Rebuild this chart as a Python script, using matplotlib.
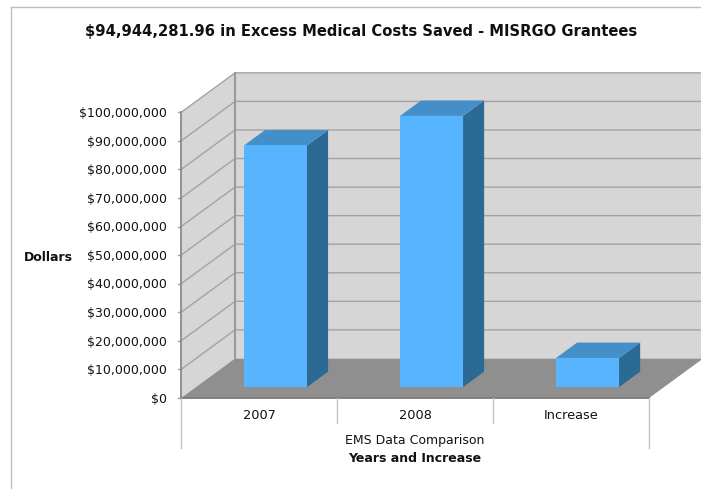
import matplotlib
matplotlib.use("Agg")
import matplotlib.pyplot as plt
from matplotlib.patches import Polygon

categories = ["2007", "2008", "Increase"]
values = [84.6e6, 94.94e6, 10.2e6]
y_ticks = list(range(0, 100000001, 10000000))
title = "$94,944,281.96 in Excess Medical Costs Saved - MISRGO Grantees"

W, H = 701, 489
fig = plt.figure(figsize=((W + 0.2) / 100, (H + 0.2) / 100), dpi=100)
L, R, T, B = 181, 649, 112.5, 398
ax = fig.add_axes([L / W, 1 - B / H, (R - L) / W, (B - T) / H])
ax.set_xlim(0, 3)
ax.set_ylim(0, 100e6)
ax.axis("off")

# oblique projection: depth 0..1 shifts a point right and up
DX = 54 / ((R - L) / 3)
DY = 39.5 / ((B - T) / 100e6)
def P(x, y, d):
    return (x + d * DX, y + d * DY)

def poly(pts, fc, ec="none", lw=0, z=1):
    ax.add_patch(Polygon(pts, closed=True, fc=fc, ec=ec, lw=lw, zorder=z, clip_on=False))

GRID = "#a3a3a3"
# back wall, side wall, floor
poly([P(0, 0, 1), P(3, 0, 1), P(3, 100e6, 1), P(0, 100e6, 1)], "#d6d6d6", z=1)
poly([P(0, 0, 0), P(0, 0, 1), P(0, 100e6, 1), P(0, 100e6, 0)], "#d6d6d6", z=1)
poly([P(0, 0, 0), P(3, 0, 0), P(3, 0, 1), P(0, 0, 1)], "#8f8f8f", z=2)

for t in y_ticks:
    if t > 0:
        a, b, c = P(0, t, 0), P(0, t, 1), P(3, t, 1)
        ax.plot([a[0], b[0], c[0]], [a[1], b[1], c[1]], color=GRID, lw=1.0, zorder=1.5, clip_on=False)
    ax.plot([-0.02, 0], [t, t], color=GRID, lw=1.0, clip_on=False, zorder=3)
    ax.annotate(f"${t:,}", (0, t), xytext=(-14, -1), textcoords="offset pixels",
                ha="right", va="center", fontsize=9.0, color="#111111", annotation_clip=False)

b1, b2 = P(0, 0, 1), P(0, 100e6, 1)
ax.plot([b1[0], b2[0]], [b1[1], b2[1]], color="#9a9a9a", lw=1.5, zorder=1.6, clip_on=False)
ax.plot([0, 0], [0, 100e6], color="#8a8a8a", lw=1.3, zorder=3, clip_on=False)
ax.plot([0, 3], [0, 0], color="#7a7a7a", lw=1.3, zorder=3, clip_on=False)

# bars
D0, D1 = 0.275, 0.665
W2 = 0.202
for i, v in enumerate(values):
    cx = i + 0.5 + 0.01
    x0, x1 = cx - W2, cx + W2
    poly([P(x1, 0, D0), P(x1, 0, D1), P(x1, v, D1), P(x1, v, D0)], "#2a6a94", z=4)
    poly([P(x0, v, D0), P(x1, v, D0), P(x1, v, D1), P(x0, v, D1)], "#458fc8", z=4)
    poly([P(x0, 0, D0), P(x1, 0, D0), P(x1, v, D0), P(x0, v, D0)], "#57b5ff", z=5)

# category separators and labels, measured in pixels below the axis
trans = ax.get_xaxis_transform()
px = 1 / (B - T)
for x in range(4):
    lo = -50 * px if x in (0, 3) else -25 * px
    ax.plot([x, x], [0, lo], transform=trans, color="#c4c4c4", lw=1.0, clip_on=False, zorder=3)
for i, c in enumerate(categories):
    ax.text(i + 0.5, -17 * px, c, transform=trans, ha="center", va="center", fontsize=9.3, color="#111111")

ax.text(1.5, -42 * px, "EMS Data Comparison", transform=trans, ha="center", va="center",
        fontsize=9.0, color="#111111")
ax.text(1.5, -60 * px, "Years and Increase", transform=trans, ha="center", va="center",
        fontsize=9.0, fontweight="bold", color="#111111")

fig.text(48 / W, 1 - 257 / H, "Dollars", ha="center", va="center", fontsize=9.0, fontweight="bold", color="#111111")
fig.text(361.5 / W, 1 - 31.5 / H, title.replace("$", r"\$"), ha="center", va="center", fontsize=10.6,
         fontweight="bold", color="#111111")

# page edge at top left
fig.add_artist(plt.Line2D([10.5 / W, 10.5 / W], [0, 1 - 7.5 / H], color="#bdbdbd", lw=1.0))
fig.add_artist(plt.Line2D([10.5 / W, 1], [1 - 7.5 / H, 1 - 7.5 / H], color="#bdbdbd", lw=1.0))

fig.savefig("out.png", dpi=100)
